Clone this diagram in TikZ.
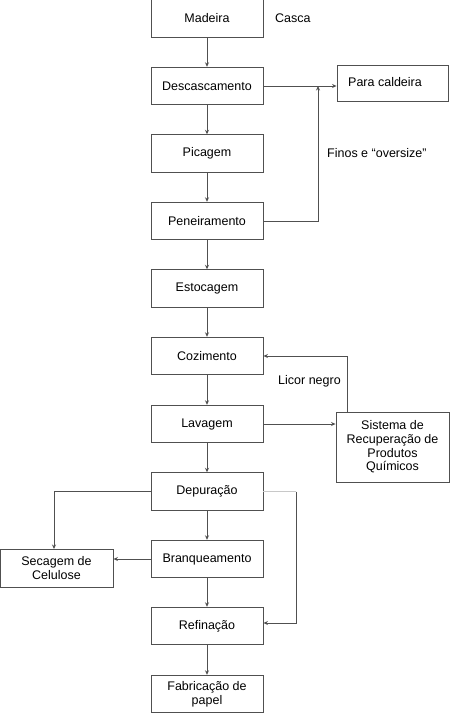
\documentclass[tikz,border=0pt]{standalone}
\usepackage{fontspec}
\setmainfont{Liberation Sans}
\usetikzlibrary{arrows.meta}
\definecolor{ln}{HTML}{505050}
\definecolor{lg}{HTML}{C8C8C8}
\begin{document}
\begin{tikzpicture}[x=1pt,y=-1pt,
  every node/.style={font=\fontsize{12.5}{13.7}\selectfont, text=black},
  box/.style={draw=ln, line width=0.9pt, minimum width=112pt, minimum height=37.5pt, inner sep=0pt, align=center},
  conn/.style={draw=ln, line width=0.9pt, -{Stealth[length=4.5pt,width=4pt]}},
  plain/.style={draw=ln, line width=0.9pt},
  lab/.style={inner sep=0pt, anchor=west}]
\useasboundingbox (0,0) rectangle (450,713);
% main column
\node[box] (mad) at (207,18.5) {Madeira};
\node[box] (desc) at (207,86) {Descascamento};
\node[box] (pic) at (207,153.5) {Picagem};
\node[box] (pen) at (207,221) {Peneiramento};
\node[box] (est) at (207,288.5) {Estocagem};
\node[box] (coz) at (207,356) {Cozimento};
\node[box] (lav) at (207,424) {Lavagem};
\node[box] (dep) at (207,491.5) {Depuração};
\node[box] (bra) at (207,559) {Branqueamento};
\node[box] (ref) at (207,626) {Refinação};
\node[box] (fab) at (207,694) {Fabricação de\\papel};
% side boxes
\node[box, minimum width=111pt, minimum height=36pt] (cal) at (392.5,83) {};
\node[lab] (caltxt) at (348,82) {Para caldeira};
\node[box, minimum width=113pt, minimum height=70pt] (sis) at (392.5,447) {Sistema de\\Recuperação de\\Produtos\\Químicos};
\node[box, minimum width=113pt, minimum height=38pt] (sec) at (56.5,568) {Secagem de\\Celulose};
% labels
\node[lab] (casca) at (275,18) {Casca};
\node[lab] (finos) at (327,153) {Finos e “oversize”};
\node[lab] (licor) at (278,381) {Licor negro};
% main vertical arrows
\draw[conn] (mad) -- (desc);
\draw[conn] (desc) -- (pic);
\draw[conn] (pic) -- (pen);
\draw[conn] (pen) -- (est);
\draw[conn] (est) -- (coz);
\draw[conn] (coz) -- (lav);
\draw[conn] (lav) -- (dep);
\draw[conn] (dep) -- (bra);
\draw[conn] (bra) -- (ref);
\draw[conn] (ref) -- (fab);
% side connections
\coordinate (j1) at (318,86);
\draw[conn] (desc.east |- j1) -- (cal.west |- j1);
\draw[conn] (pen.east) -- (318,221) -- (j1);
\draw[conn] (lav.east) -- (sis.west |- lav.east);
\draw[conn] (347,412) -- (347,356) -- (coz.east);
\draw[conn] (dep.west) -- (54,491.5) -- (54,549);
\draw[conn] (bra.west) -- (sec.east |- bra.west);
\draw[draw=lg, line width=0.9pt] (dep.east) -- (296,491.5);
\draw[conn] (296,491.5) -- (296,623) -- (ref.east |- 296,623);
\end{tikzpicture}
\end{document}
